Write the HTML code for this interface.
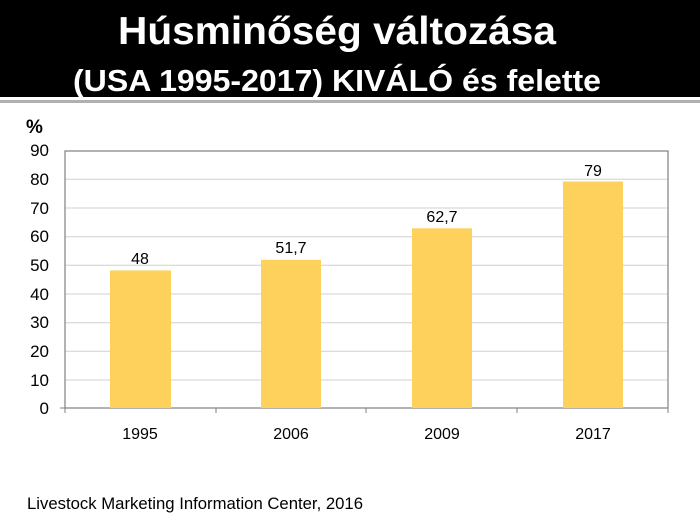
<!DOCTYPE html>
<html><head><meta charset="utf-8"><style>
body{margin:0;width:700px;height:527px;overflow:hidden;background:#fff;font-family:"Liberation Sans",sans-serif}
</style></head><body>
<svg width="700" height="527" xmlns="http://www.w3.org/2000/svg" font-family="Liberation Sans, sans-serif">
<rect x="0" y="0" width="700" height="97" fill="#000"/>
<rect x="0" y="100" width="700" height="3" fill="#b0b0b0"/>
<text x="337" y="44" fill="#fff" font-size="39" font-weight="bold" text-anchor="middle" textLength="438" lengthAdjust="spacingAndGlyphs">Húsminőség változása</text>
<text x="337" y="91" fill="#fff" font-size="31" font-weight="bold" text-anchor="middle" textLength="528" lengthAdjust="spacingAndGlyphs">(USA 1995-2017) KIVÁLÓ és felette</text>
<text x="26" y="133" font-size="19" font-weight="bold" fill="#000">%</text>
<g stroke="#d0d0d0" stroke-width="1">
<line x1="65" x2="668" y1="179.3" y2="179.3"/><line x1="65" x2="668" y1="208" y2="208"/>
<line x1="65" x2="668" y1="236.7" y2="236.7"/><line x1="65" x2="668" y1="265.3" y2="265.3"/>
<line x1="65" x2="668" y1="294" y2="294"/><line x1="65" x2="668" y1="322.7" y2="322.7"/>
<line x1="65" x2="668" y1="351.3" y2="351.3"/><line x1="65" x2="668" y1="380" y2="380"/>
</g>
<rect x="65" y="151" width="603" height="257" fill="none" stroke="#808080" stroke-width="1.2"/>
<g fill="#fed15d">
<rect x="110" y="270.4" width="61" height="137.6"/>
<rect x="261" y="259.8" width="60" height="148.2"/>
<rect x="412" y="228.3" width="60" height="179.7"/>
<rect x="563" y="181.5" width="60" height="226.5"/>
</g>
<g stroke="#808080"><line x1="60" x2="65" y1="408" y2="408"/>
<line x1="65" x2="65" y1="408" y2="413"/><line x1="216" x2="216" y1="408" y2="413"/><line x1="366" x2="366" y1="408" y2="413"/><line x1="517" x2="517" y1="408" y2="413"/><line x1="668" x2="668" y1="408" y2="413"/></g>
<g font-size="17" fill="#000" text-anchor="end">
<text x="49" y="156">90</text><text x="49" y="185">80</text><text x="49" y="214">70</text><text x="49" y="242">60</text><text x="49" y="271">50</text><text x="49" y="300">40</text><text x="49" y="328">30</text><text x="49" y="357">20</text><text x="49" y="386">10</text><text x="49" y="414">0</text>
</g>
<g font-size="16" fill="#000" text-anchor="middle">
<text x="140" y="264">48</text><text x="291" y="253">51,7</text><text x="442" y="222">62,7</text><text x="593" y="176">79</text>
<text x="140" y="439">1995</text><text x="291" y="439">2006</text><text x="442" y="439">2009</text><text x="593" y="439">2017</text>
</g>
<text x="27" y="509" font-size="17" fill="#000" textLength="336" lengthAdjust="spacingAndGlyphs">Livestock Marketing Information Center, 2016</text>
</svg>
</body></html>
